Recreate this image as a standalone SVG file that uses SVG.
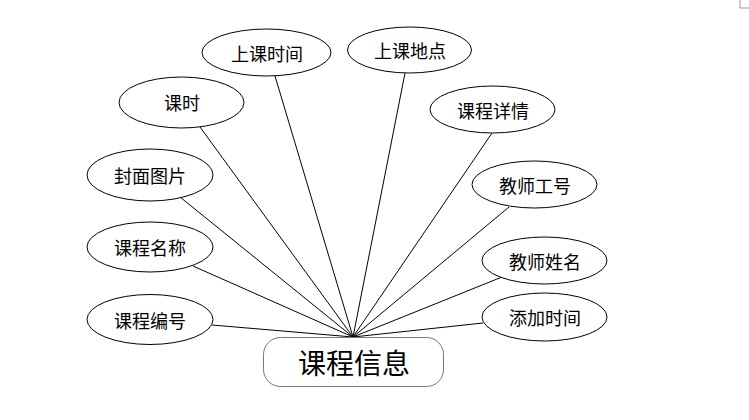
<svg xmlns="http://www.w3.org/2000/svg" width="749" height="420" viewBox="0 0 749 420">
<style>
.attr ellipse{fill:#fff;stroke:#000;stroke-width:1}
.attr text{font-family:"Noto Sans CJK SC",sans-serif;font-size:18px;fill:#000;text-anchor:middle;dominant-baseline:central}
#connectors line{stroke:#000;stroke-width:1}
</style>
<rect width="749" height="420" fill="#fff"/>
<path d="M740 0V8H749" fill="none" stroke="#999" stroke-width="1"/>
<g id="connectors">
<line x1="275" y1="76" x2="353" y2="337"/>
<line x1="405" y1="73" x2="353" y2="337"/>
<line x1="200" y1="127" x2="353" y2="337"/>
<line x1="180" y1="197" x2="353" y2="337"/>
<line x1="193" y1="266" x2="353" y2="337"/>
<line x1="212" y1="325" x2="353" y2="337"/>
<line x1="492" y1="133" x2="353" y2="337"/>
<line x1="509" y1="207" x2="353" y2="337"/>
<line x1="502" y1="277" x2="353" y2="337"/>
<line x1="483" y1="323" x2="353" y2="337"/>
</g>
<g id="n-sksj" class="attr"><ellipse cx="266.5" cy="52.5" rx="64.5" ry="23.5"/><text x="267" y="53">上课时间</text></g>
<g id="n-skdd" class="attr"><ellipse cx="409.5" cy="50" rx="62" ry="23"/><text x="410" y="50">上课地点</text></g>
<g id="n-ks" class="attr"><ellipse cx="181.5" cy="102.5" rx="62.5" ry="25.5"/><text x="182" y="102">课时</text></g>
<g id="n-fmtp" class="attr"><ellipse cx="150" cy="175" rx="63" ry="26"/><text x="150" y="175">封面图片</text></g>
<g id="n-kcmc" class="attr"><ellipse cx="150" cy="247" rx="63" ry="25"/><text x="150" y="247">课程名称</text></g>
<g id="n-kcbh" class="attr"><ellipse cx="150" cy="319.5" rx="63" ry="25"/><text x="150" y="320">课程编号</text></g>
<g id="n-kcxq" class="attr"><ellipse cx="492.5" cy="109.5" rx="62.5" ry="23.5"/><text x="493" y="110">课程详情</text></g>
<g id="n-jsgh" class="attr"><ellipse cx="534.5" cy="184.5" rx="62.5" ry="23.5"/><text x="535" y="185">教师工号</text></g>
<g id="n-jsxm" class="attr"><ellipse cx="544.5" cy="260.5" rx="62.5" ry="23.5"/><text x="545" y="261">教师姓名</text></g>
<g id="n-tjsj" class="attr"><ellipse cx="544.5" cy="317" rx="62.5" ry="24"/><text x="545" y="317">添加时间</text></g>
<g id="n-kcxx"><rect x="263.5" y="337.5" width="180" height="49" rx="17" ry="17" fill="#fff" stroke="#777" stroke-width="1"/><text x="354" y="362" font-family="Noto Sans CJK SC,sans-serif" font-size="28" text-anchor="middle" dominant-baseline="central" fill="#000">课程信息</text></g>
</svg>
